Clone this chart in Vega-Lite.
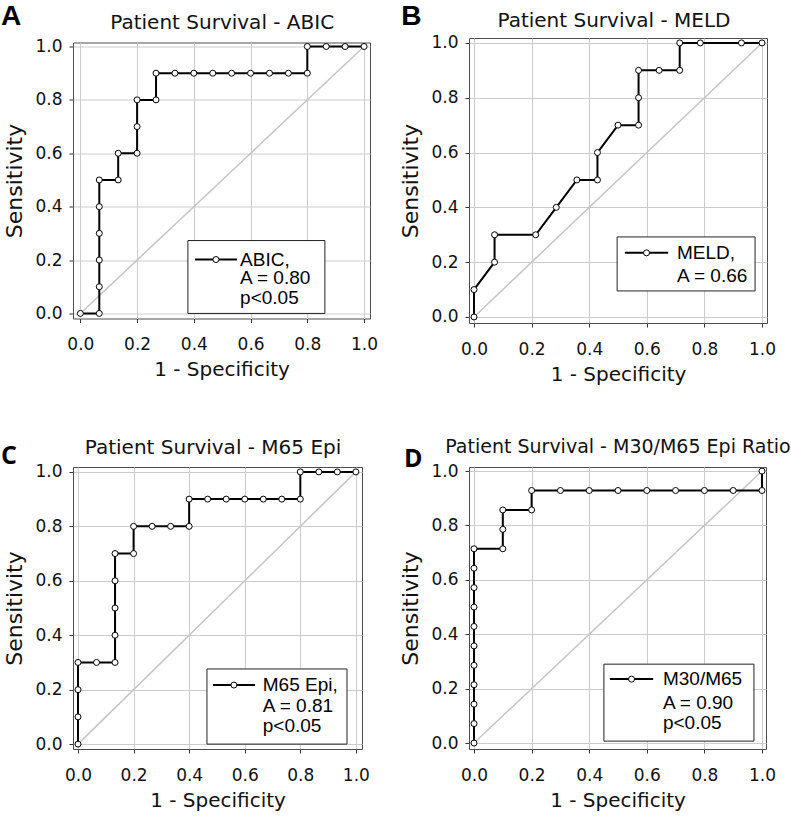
{
  "$schema": "https://vega.github.io/schema/vega-lite/v6.json",
  "padding": {"left": 0, "top": 2, "right": 5, "bottom": 5},
  "datasets": {
    "roc": [
      {"panel": "A", "step": 1, "fpr": 0, "tpr": 0},
      {"panel": "A", "step": 2, "fpr": 0.0667, "tpr": 0},
      {"panel": "A", "step": 3, "fpr": 0.0667, "tpr": 0.1},
      {"panel": "A", "step": 4, "fpr": 0.0667, "tpr": 0.2},
      {"panel": "A", "step": 5, "fpr": 0.0667, "tpr": 0.3},
      {"panel": "A", "step": 6, "fpr": 0.0667, "tpr": 0.4},
      {"panel": "A", "step": 7, "fpr": 0.0667, "tpr": 0.5},
      {"panel": "A", "step": 8, "fpr": 0.1333, "tpr": 0.5},
      {"panel": "A", "step": 9, "fpr": 0.1333, "tpr": 0.6},
      {"panel": "A", "step": 10, "fpr": 0.2, "tpr": 0.6},
      {"panel": "A", "step": 11, "fpr": 0.2, "tpr": 0.7},
      {"panel": "A", "step": 12, "fpr": 0.2, "tpr": 0.8},
      {"panel": "A", "step": 13, "fpr": 0.2667, "tpr": 0.8},
      {"panel": "A", "step": 14, "fpr": 0.2667, "tpr": 0.9},
      {"panel": "A", "step": 15, "fpr": 0.3333, "tpr": 0.9},
      {"panel": "A", "step": 16, "fpr": 0.4, "tpr": 0.9},
      {"panel": "A", "step": 17, "fpr": 0.4667, "tpr": 0.9},
      {"panel": "A", "step": 18, "fpr": 0.5333, "tpr": 0.9},
      {"panel": "A", "step": 19, "fpr": 0.6, "tpr": 0.9},
      {"panel": "A", "step": 20, "fpr": 0.6667, "tpr": 0.9},
      {"panel": "A", "step": 21, "fpr": 0.7333, "tpr": 0.9},
      {"panel": "A", "step": 22, "fpr": 0.8, "tpr": 0.9},
      {"panel": "A", "step": 23, "fpr": 0.8, "tpr": 1.0},
      {"panel": "A", "step": 24, "fpr": 0.8667, "tpr": 1.0},
      {"panel": "A", "step": 25, "fpr": 0.9333, "tpr": 1.0},
      {"panel": "A", "step": 26, "fpr": 1.0, "tpr": 1.0},
      {"panel": "B", "step": 1, "fpr": 0, "tpr": 0},
      {"panel": "B", "step": 2, "fpr": 0, "tpr": 0.1},
      {"panel": "B", "step": 3, "fpr": 0.0714, "tpr": 0.2},
      {"panel": "B", "step": 4, "fpr": 0.0714, "tpr": 0.3},
      {"panel": "B", "step": 5, "fpr": 0.2143, "tpr": 0.3},
      {"panel": "B", "step": 6, "fpr": 0.2857, "tpr": 0.4},
      {"panel": "B", "step": 7, "fpr": 0.3571, "tpr": 0.5},
      {"panel": "B", "step": 8, "fpr": 0.4286, "tpr": 0.5},
      {"panel": "B", "step": 9, "fpr": 0.4286, "tpr": 0.6},
      {"panel": "B", "step": 10, "fpr": 0.5, "tpr": 0.7},
      {"panel": "B", "step": 11, "fpr": 0.5714, "tpr": 0.7},
      {"panel": "B", "step": 12, "fpr": 0.5714, "tpr": 0.8},
      {"panel": "B", "step": 13, "fpr": 0.5714, "tpr": 0.9},
      {"panel": "B", "step": 14, "fpr": 0.6429, "tpr": 0.9},
      {"panel": "B", "step": 15, "fpr": 0.7143, "tpr": 0.9},
      {"panel": "B", "step": 16, "fpr": 0.7143, "tpr": 1.0},
      {"panel": "B", "step": 17, "fpr": 0.7857, "tpr": 1.0},
      {"panel": "B", "step": 18, "fpr": 0.9286, "tpr": 1.0},
      {"panel": "B", "step": 19, "fpr": 1.0, "tpr": 1.0},
      {"panel": "C", "step": 1, "fpr": 0, "tpr": 0},
      {"panel": "C", "step": 2, "fpr": 0, "tpr": 0.1},
      {"panel": "C", "step": 3, "fpr": 0, "tpr": 0.2},
      {"panel": "C", "step": 4, "fpr": 0, "tpr": 0.3},
      {"panel": "C", "step": 5, "fpr": 0.0667, "tpr": 0.3},
      {"panel": "C", "step": 6, "fpr": 0.1333, "tpr": 0.3},
      {"panel": "C", "step": 7, "fpr": 0.1333, "tpr": 0.4},
      {"panel": "C", "step": 8, "fpr": 0.1333, "tpr": 0.5},
      {"panel": "C", "step": 9, "fpr": 0.1333, "tpr": 0.6},
      {"panel": "C", "step": 10, "fpr": 0.1333, "tpr": 0.7},
      {"panel": "C", "step": 11, "fpr": 0.2, "tpr": 0.7},
      {"panel": "C", "step": 12, "fpr": 0.2, "tpr": 0.8},
      {"panel": "C", "step": 13, "fpr": 0.2667, "tpr": 0.8},
      {"panel": "C", "step": 14, "fpr": 0.3333, "tpr": 0.8},
      {"panel": "C", "step": 15, "fpr": 0.4, "tpr": 0.8},
      {"panel": "C", "step": 16, "fpr": 0.4, "tpr": 0.9},
      {"panel": "C", "step": 17, "fpr": 0.4667, "tpr": 0.9},
      {"panel": "C", "step": 18, "fpr": 0.5333, "tpr": 0.9},
      {"panel": "C", "step": 19, "fpr": 0.6, "tpr": 0.9},
      {"panel": "C", "step": 20, "fpr": 0.6667, "tpr": 0.9},
      {"panel": "C", "step": 21, "fpr": 0.7333, "tpr": 0.9},
      {"panel": "C", "step": 22, "fpr": 0.8, "tpr": 0.9},
      {"panel": "C", "step": 23, "fpr": 0.8, "tpr": 1.0},
      {"panel": "C", "step": 24, "fpr": 0.8667, "tpr": 1.0},
      {"panel": "C", "step": 25, "fpr": 0.9333, "tpr": 1.0},
      {"panel": "C", "step": 26, "fpr": 1.0, "tpr": 1.0},
      {"panel": "D", "step": 1, "fpr": 0, "tpr": 0},
      {"panel": "D", "step": 2, "fpr": 0, "tpr": 0.0714},
      {"panel": "D", "step": 3, "fpr": 0, "tpr": 0.1429},
      {"panel": "D", "step": 4, "fpr": 0, "tpr": 0.2143},
      {"panel": "D", "step": 5, "fpr": 0, "tpr": 0.2857},
      {"panel": "D", "step": 6, "fpr": 0, "tpr": 0.3571},
      {"panel": "D", "step": 7, "fpr": 0, "tpr": 0.4286},
      {"panel": "D", "step": 8, "fpr": 0, "tpr": 0.5},
      {"panel": "D", "step": 9, "fpr": 0, "tpr": 0.5714},
      {"panel": "D", "step": 10, "fpr": 0, "tpr": 0.6429},
      {"panel": "D", "step": 11, "fpr": 0, "tpr": 0.7143},
      {"panel": "D", "step": 12, "fpr": 0.1, "tpr": 0.7143},
      {"panel": "D", "step": 13, "fpr": 0.1, "tpr": 0.7857},
      {"panel": "D", "step": 14, "fpr": 0.1, "tpr": 0.8571},
      {"panel": "D", "step": 15, "fpr": 0.2, "tpr": 0.8571},
      {"panel": "D", "step": 16, "fpr": 0.2, "tpr": 0.9286},
      {"panel": "D", "step": 17, "fpr": 0.3, "tpr": 0.9286},
      {"panel": "D", "step": 18, "fpr": 0.4, "tpr": 0.9286},
      {"panel": "D", "step": 19, "fpr": 0.5, "tpr": 0.9286},
      {"panel": "D", "step": 20, "fpr": 0.6, "tpr": 0.9286},
      {"panel": "D", "step": 21, "fpr": 0.7, "tpr": 0.9286},
      {"panel": "D", "step": 22, "fpr": 0.8, "tpr": 0.9286},
      {"panel": "D", "step": 23, "fpr": 0.9, "tpr": 0.9286},
      {"panel": "D", "step": 24, "fpr": 1.0, "tpr": 0.9286},
      {"panel": "D", "step": 25, "fpr": 1.0, "tpr": 1.0}
    ]
  },
  "columns": 2,
  "spacing": {"row": 144, "column": 99},
  "bounds": "flush",
  "center": {"row": true, "column": false},
  "concat": [
    {
      "width": 297, "height": 276,
      "layer": [
        {"data": {"values": [{}]}, "mark": {"type": "rule", "color": "#c4c4c4", "strokeWidth": 1.5},
         "encoding": {
           "x": {"datum": 0, "type": "quantitative", "scale": {"domain": [-0.026, 1.021], "nice": false, "zero": false}, "axis": {"title": "1 - Specificity", "values": [0, 0.2, 0.4, 0.6, 0.8, 1], "format": ".1f"}},
           "y": {"datum": 0, "type": "quantitative", "scale": {"domain": [-0.019, 1.015], "nice": false, "zero": false}, "axis": {"title": "Sensitivity", "values": [0, 0.2, 0.4, 0.6, 0.8, 1], "format": ".1f"}},
           "x2": {"datum": 1}, "y2": {"datum": 1}}},
        {"data": {"name": "roc"}, "transform": [{"filter": "datum.panel == 'A'"}], "mark": {"type": "line", "color": "#000", "strokeWidth": 2},
         "encoding": {"x": {"field": "fpr", "type": "quantitative"}, "y": {"field": "tpr", "type": "quantitative"}, "order": {"field": "step"}}},
        {"data": {"name": "roc"}, "transform": [{"filter": "datum.panel == 'A'"}], "mark": {"type": "point", "shape": "circle", "filled": true, "fill": "#fff", "stroke": "#000", "strokeWidth": 1, "size": 36, "opacity": 1},
         "encoding": {"x": {"field": "fpr", "type": "quantitative"}, "y": {"field": "tpr", "type": "quantitative"}}},
        {"data": {"values": [{}]}, "mark": {"type": "rect", "fill": "#fff", "stroke": "#222", "strokeWidth": 1},
         "encoding": {"x": {"datum": 0.379}, "x2": {"datum": 0.862}, "y": {"datum": 0}, "y2": {"datum": 0.273}}},
        {"data": {"values": [{}]}, "mark": {"type": "rule", "color": "#000", "strokeWidth": 2},
         "encoding": {"x": {"datum": 0.404}, "x2": {"datum": 0.552}, "y": {"datum": 0.202}}},
        {"data": {"values": [{}]}, "mark": {"type": "point", "shape": "circle", "filled": true, "fill": "#fff", "stroke": "#000", "strokeWidth": 1, "size": 36, "opacity": 1},
         "encoding": {"x": {"datum": 0.478}, "y": {"datum": 0.202}}},
        {"data": {"values": [{}]}, "mark": {"type": "text", "align": "left", "baseline": "middle", "font": "Liberation Sans", "fontSize": 19, "color": "#000"},
         "encoding": {"x": {"datum": 0.563}, "y": {"datum": 0.202}, "text": {"value": "ABIC,"}}},
        {"data": {"values": [{}]}, "mark": {"type": "text", "align": "left", "baseline": "middle", "font": "Liberation Sans", "fontSize": 19, "color": "#000"},
         "encoding": {"x": {"datum": 0.563}, "y": {"datum": 0.131}, "text": {"value": "A = 0.80"}}},
        {"data": {"values": [{}]}, "mark": {"type": "text", "align": "left", "baseline": "middle", "font": "Liberation Sans", "fontSize": 19, "color": "#000"},
         "encoding": {"x": {"datum": 0.563}, "y": {"datum": 0.056}, "text": {"value": "p<0.05"}}},
        {"data": {"values": [{}]}, "mark": {"type": "text", "align": "center", "baseline": "alphabetic", "font": "DejaVu Sans", "fontSize": 20, "color": "#111"},
         "encoding": {"x": {"datum": 0.5}, "y": {"datum": 1.067}, "text": {"value": "Patient Survival - ABIC"}}},
        {"data": {"values": [{}]}, "mark": {"type": "text", "align": "left", "baseline": "alphabetic", "font": "Liberation Sans", "fontSize": 28, "fontWeight": "bold", "color": "#000"},
         "encoding": {"x": {"datum": -0.28}, "y": {"datum": 1.082}, "text": {"value": "A"}}}
      ]
    },
    {
      "width": 298, "height": 285,
      "layer": [
        {"data": {"values": [{}]}, "mark": {"type": "rule", "color": "#c4c4c4", "strokeWidth": 1.5},
         "encoding": {
           "x": {"datum": 0, "type": "quantitative", "scale": {"domain": [-0.0174, 1.0174], "nice": false, "zero": false}, "axis": {"title": "1 - Specificity", "values": [0, 0.2, 0.4, 0.6, 0.8, 1], "format": ".1f"}},
           "y": {"datum": 0, "type": "quantitative", "scale": {"domain": [-0.022, 1.018], "nice": false, "zero": false}, "axis": {"title": "Sensitivity", "values": [0, 0.2, 0.4, 0.6, 0.8, 1], "format": ".1f"}},
           "x2": {"datum": 1}, "y2": {"datum": 1}}},
        {"data": {"name": "roc"}, "transform": [{"filter": "datum.panel == 'B'"}], "mark": {"type": "line", "color": "#000", "strokeWidth": 2},
         "encoding": {"x": {"field": "fpr", "type": "quantitative"}, "y": {"field": "tpr", "type": "quantitative"}, "order": {"field": "step"}}},
        {"data": {"name": "roc"}, "transform": [{"filter": "datum.panel == 'B'"}], "mark": {"type": "point", "shape": "circle", "filled": true, "fill": "#fff", "stroke": "#000", "strokeWidth": 1, "size": 36, "opacity": 1},
         "encoding": {"x": {"field": "fpr", "type": "quantitative"}, "y": {"field": "tpr", "type": "quantitative"}}},
        {"data": {"values": [{}]}, "mark": {"type": "rect", "fill": "#fff", "stroke": "#222", "strokeWidth": 1},
         "encoding": {"x": {"datum": 0.497}, "x2": {"datum": 0.976}, "y": {"datum": 0.095}, "y2": {"datum": 0.292}}},
        {"data": {"values": [{}]}, "mark": {"type": "rule", "color": "#000", "strokeWidth": 2},
         "encoding": {"x": {"datum": 0.524}, "x2": {"datum": 0.674}, "y": {"datum": 0.234}}},
        {"data": {"values": [{}]}, "mark": {"type": "point", "shape": "circle", "filled": true, "fill": "#fff", "stroke": "#000", "strokeWidth": 1, "size": 36, "opacity": 1},
         "encoding": {"x": {"datum": 0.599}, "y": {"datum": 0.234}}},
        {"data": {"values": [{}]}, "mark": {"type": "text", "align": "left", "baseline": "middle", "font": "Liberation Sans", "fontSize": 19, "color": "#000"},
         "encoding": {"x": {"datum": 0.705}, "y": {"datum": 0.234}, "text": {"value": "MELD,"}}},
        {"data": {"values": [{}]}, "mark": {"type": "text", "align": "left", "baseline": "middle", "font": "Liberation Sans", "fontSize": 19, "color": "#000"},
         "encoding": {"x": {"datum": 0.705}, "y": {"datum": 0.15}, "text": {"value": "A = 0.66"}}},
        {"data": {"values": [{}]}, "mark": {"type": "text", "align": "center", "baseline": "alphabetic", "font": "DejaVu Sans", "fontSize": 20, "color": "#111"},
         "encoding": {"x": {"datum": 0.486}, "y": {"datum": 1.058}, "text": {"value": "Patient Survival - MELD"}}},
        {"data": {"values": [{}]}, "mark": {"type": "text", "align": "left", "baseline": "alphabetic", "font": "Liberation Sans", "fontSize": 28, "fontWeight": "bold", "color": "#000"},
         "encoding": {"x": {"datum": -0.253}, "y": {"datum": 1.066}, "text": {"value": "B"}}}
      ]
    },
    {
      "width": 289, "height": 282,
      "layer": [
        {"data": {"values": [{}]}, "mark": {"type": "rule", "color": "#c4c4c4", "strokeWidth": 1.5},
         "encoding": {
           "x": {"datum": 0, "type": "quantitative", "scale": {"domain": [-0.018, 1.022], "nice": false, "zero": false}, "axis": {"title": "1 - Specificity", "values": [0, 0.2, 0.4, 0.6, 0.8, 1], "format": ".1f"}},
           "y": {"datum": 0, "type": "quantitative", "scale": {"domain": [-0.018, 1.018], "nice": false, "zero": false}, "axis": {"title": "Sensitivity", "values": [0, 0.2, 0.4, 0.6, 0.8, 1], "format": ".1f"}},
           "x2": {"datum": 1}, "y2": {"datum": 1}}},
        {"data": {"name": "roc"}, "transform": [{"filter": "datum.panel == 'C'"}], "mark": {"type": "line", "color": "#000", "strokeWidth": 2},
         "encoding": {"x": {"field": "fpr", "type": "quantitative"}, "y": {"field": "tpr", "type": "quantitative"}, "order": {"field": "step"}}},
        {"data": {"name": "roc"}, "transform": [{"filter": "datum.panel == 'C'"}], "mark": {"type": "point", "shape": "circle", "filled": true, "fill": "#fff", "stroke": "#000", "strokeWidth": 1, "size": 36, "opacity": 1},
         "encoding": {"x": {"field": "fpr", "type": "quantitative"}, "y": {"field": "tpr", "type": "quantitative"}}},
        {"data": {"values": [{}]}, "mark": {"type": "rect", "fill": "#fff", "stroke": "#222", "strokeWidth": 1},
         "encoding": {"x": {"datum": 0.464}, "x2": {"datum": 0.968}, "y": {"datum": 0}, "y2": {"datum": 0.276}}},
        {"data": {"values": [{}]}, "mark": {"type": "rule", "color": "#000", "strokeWidth": 2},
         "encoding": {"x": {"datum": 0.486}, "x2": {"datum": 0.637}, "y": {"datum": 0.217}}},
        {"data": {"values": [{}]}, "mark": {"type": "point", "shape": "circle", "filled": true, "fill": "#fff", "stroke": "#000", "strokeWidth": 1, "size": 36, "opacity": 1},
         "encoding": {"x": {"datum": 0.561}, "y": {"datum": 0.217}}},
        {"data": {"values": [{}]}, "mark": {"type": "text", "align": "left", "baseline": "middle", "font": "Liberation Sans", "fontSize": 19, "color": "#000"},
         "encoding": {"x": {"datum": 0.665}, "y": {"datum": 0.217}, "text": {"value": "M65 Epi,"}}},
        {"data": {"values": [{}]}, "mark": {"type": "text", "align": "left", "baseline": "middle", "font": "Liberation Sans", "fontSize": 19, "color": "#000"},
         "encoding": {"x": {"datum": 0.665}, "y": {"datum": 0.14}, "text": {"value": "A = 0.81"}}},
        {"data": {"values": [{}]}, "mark": {"type": "text", "align": "left", "baseline": "middle", "font": "Liberation Sans", "fontSize": 19, "color": "#000"},
         "encoding": {"x": {"datum": 0.665}, "y": {"datum": 0.066}, "text": {"value": "p<0.05"}}},
        {"data": {"values": [{}]}, "mark": {"type": "text", "align": "center", "baseline": "alphabetic", "font": "DejaVu Sans", "fontSize": 20, "color": "#111"},
         "encoding": {"x": {"datum": 0.486}, "y": {"datum": 1.066}, "text": {"value": "Patient Survival - M65 Epi"}}},
        {"data": {"values": [{}]}, "mark": {"type": "text", "align": "left", "baseline": "alphabetic", "font": "Open Sans", "fontSize": 25, "fontWeight": "bold", "color": "#000"},
         "encoding": {"x": {"datum": -0.277}, "y": {"datum": 1.029}, "text": {"value": "C"}}}
      ]
    },
    {
      "width": 297, "height": 282,
      "layer": [
        {"data": {"values": [{}]}, "mark": {"type": "rule", "color": "#c4c4c4", "strokeWidth": 1.5},
         "encoding": {
           "x": {"datum": 0, "type": "quantitative", "scale": {"domain": [-0.0174, 1.0139], "nice": false, "zero": false}, "axis": {"title": "1 - Specificity", "values": [0, 0.2, 0.4, 0.6, 0.8, 1], "format": ".1f"}},
           "y": {"datum": 0, "type": "quantitative", "scale": {"domain": [-0.022, 1.015], "nice": false, "zero": false}, "axis": {"title": "Sensitivity", "values": [0, 0.2, 0.4, 0.6, 0.8, 1], "format": ".1f"}},
           "x2": {"datum": 1}, "y2": {"datum": 1}}},
        {"data": {"name": "roc"}, "transform": [{"filter": "datum.panel == 'D'"}], "mark": {"type": "line", "color": "#000", "strokeWidth": 2},
         "encoding": {"x": {"field": "fpr", "type": "quantitative"}, "y": {"field": "tpr", "type": "quantitative"}, "order": {"field": "step"}}},
        {"data": {"name": "roc"}, "transform": [{"filter": "datum.panel == 'D'"}], "mark": {"type": "point", "shape": "circle", "filled": true, "fill": "#fff", "stroke": "#000", "strokeWidth": 1, "size": 36, "opacity": 1},
         "encoding": {"x": {"field": "fpr", "type": "quantitative"}, "y": {"field": "tpr", "type": "quantitative"}}},
        {"data": {"values": [{}]}, "mark": {"type": "rect", "fill": "#fff", "stroke": "#222", "strokeWidth": 1},
         "encoding": {"x": {"datum": 0.451}, "x2": {"datum": 0.972}, "y": {"datum": 0.007}, "y2": {"datum": 0.29}}},
        {"data": {"values": [{}]}, "mark": {"type": "rule", "color": "#000", "strokeWidth": 2},
         "encoding": {"x": {"datum": 0.472}, "x2": {"datum": 0.622}, "y": {"datum": 0.235}}},
        {"data": {"values": [{}]}, "mark": {"type": "point", "shape": "circle", "filled": true, "fill": "#fff", "stroke": "#000", "strokeWidth": 1, "size": 36, "opacity": 1},
         "encoding": {"x": {"datum": 0.547}, "y": {"datum": 0.235}}},
        {"data": {"values": [{}]}, "mark": {"type": "text", "align": "left", "baseline": "middle", "font": "Liberation Sans", "fontSize": 19, "color": "#000"},
         "encoding": {"x": {"datum": 0.656}, "y": {"datum": 0.235}, "text": {"value": "M30/M65"}}},
        {"data": {"values": [{}]}, "mark": {"type": "text", "align": "left", "baseline": "middle", "font": "Liberation Sans", "fontSize": 19, "color": "#000"},
         "encoding": {"x": {"datum": 0.656}, "y": {"datum": 0.147}, "text": {"value": "A = 0.90"}}},
        {"data": {"values": [{}]}, "mark": {"type": "text", "align": "left", "baseline": "middle", "font": "Liberation Sans", "fontSize": 19, "color": "#000"},
         "encoding": {"x": {"datum": 0.656}, "y": {"datum": 0.074}, "text": {"value": "p<0.05"}}},
        {"data": {"values": [{}]}, "mark": {"type": "text", "align": "center", "baseline": "alphabetic", "font": "DejaVu Sans", "fontSize": 19, "color": "#111"},
         "encoding": {"x": {"datum": 0.5}, "y": {"datum": 1.066}, "text": {"value": "Patient Survival - M30/M65 Epi Ratio"}}},
        {"data": {"values": [{}]}, "mark": {"type": "text", "align": "left", "baseline": "alphabetic", "font": "Open Sans", "fontSize": 25, "fontWeight": "bold", "color": "#000"},
         "encoding": {"x": {"datum": -0.243}, "y": {"datum": 1.015}, "text": {"value": "D"}}}
      ]
    }
  ],
  "config": {
    "view": {"stroke": "#4d4d4d", "strokeWidth": 1},
    "axis": {"grid": true, "gridColor": "#cccccc", "gridWidth": 1, "domain": false, "tickColor": "#333333", "tickSize": 4,
             "labelFont": "DejaVu Sans", "labelFontSize": 17, "labelColor": "#111111",
             "titleFont": "DejaVu Sans", "titleFontSize": 20, "titleFontWeight": "normal", "titleColor": "#111111"},
    "axisX": {"labelPadding": 14, "titlePadding": 7},
    "axisY": {"labelPadding": 7, "titlePadding": 8, "titleFontSize": 22}
  }
}
